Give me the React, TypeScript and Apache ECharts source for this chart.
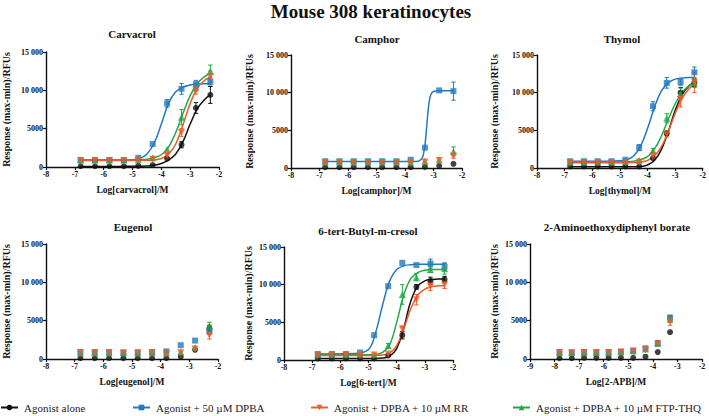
import React, { useEffect, useRef } from 'react';
import * as echarts from 'echarts';

const FONT = 'Liberation Serif';

// ---------- shared x values ----------
const concX = [-6.8, -6.3, -5.8, -5.3, -4.8, -4.3, -3.8, -3.3, -2.8, -2.3];
const apbX = [-7.8, -7.3, -6.8, -6.3, -5.8, -5.3, -4.8, -4.3, -3.8, -3.3];
const fitX = [-6.8, -5.5, -5, -4.75, -4.5, -4.25, -4, -3.75, -3.5, -3.25, -3, -2.75, -2.5, -2.3];
const camphorFitX = [-6.8, -4, -3.6, -3.5, -3.4, -3.35, -3.3, -3.25, -3.2, -3.15, -3.1, -3, -2.8, -2.3];

const legendNames = ['Agonist alone', 'Agonist + 50 µM DPBA', 'Agonist + DPBA + 10 µM RR', 'Agonist + DPBA + 10 µM FTP-THQ'];
const panelTitles = ['Carvacrol', 'Camphor', 'Thymol', 'Eugenol', '6-tert-Butyl-m-cresol', '2-Aminoethoxydiphenyl borate'];
const xNames = ['Log[carvacrol]/M', 'Log[camphor]/M', 'Log[thymol]/M', 'Log[eugenol]/M', 'Log[6-tert]/M', 'Log[2-APB]/M'];
const yTicks = [0, 5000, 10000, 15000];

// ---------- Carvacrol ----------
const carvAlone = [100, 100, 100, 100, 150, 250, 1100, 2900, 7700, 9400];
const carvAloneErr = [0, 0, 0, 0, 0, 100, 200, 400, 700, 1100];
const carvDpba = [900, 900, 900, 900, 1200, 3000, 8300, 10200, 10800, 11100];
const carvDpbaErr = [0, 0, 0, 0, 100, 200, 500, 700, 500, 400];
const carvRr = [850, 850, 850, 850, 850, 1000, 1500, 4500, 10000, 11800];
const carvRrErr = [0, 0, 0, 0, 0, 100, 300, 500, 500, 700];
const carvFtp = [900, 900, 900, 900, 950, 1200, 2300, 6500, 10400, 12500];
const carvFtpErr = [0, 0, 0, 0, 0, 100, 200, 1000, 500, 800];
const carvAloneFit = [80, 80, 90, 100, 130, 220, 450, 900, 1700, 3300, 5600, 7600, 8800, 9400];
const carvDpbaFit = [900, 900, 950, 1100, 1700, 3100, 5600, 8300, 9800, 10400, 10700, 10800, 10850, 10850];
const carvRrFit = [850, 850, 850, 860, 880, 920, 1100, 1700, 3000, 5500, 8300, 10300, 11300, 11700];
const carvFtpFit = [900, 900, 910, 930, 1000, 1200, 1600, 2600, 4500, 7000, 9300, 10900, 11800, 12200];

// ---------- Camphor ----------
const campAlone = [100, 100, 100, 100, 100, 100, 100, 150, 300, 550];
const campAloneErr = [0, 0, 0, 0, 0, 0, 0, 0, 100, 100];
const campDpba = [900, 900, 900, 900, 900, 900, 1100, 2700, 10300, 10200];
const campDpbaErr = [0, 0, 0, 0, 0, 0, 100, 200, 200, 1200];
const campRr = [700, 700, 700, 700, 700, 700, 700, 800, 1000, 1600];
const campRrErr = [0, 0, 0, 0, 0, 0, 0, 100, 200, 300];
const campFtp = [800, 800, 800, 800, 800, 800, 800, 900, 1100, 2200];
const campFtpErr = [0, 0, 0, 0, 0, 0, 0, 100, 200, 600];
const campDpbaFit = [850, 850, 870, 950, 1300, 1900, 3000, 5000, 7200, 8800, 9700, 10150, 10250, 10250];

// ---------- Thymol ----------
const thymAlone = [200, 200, 200, 200, 200, 200, 1300, 4600, 10000, 11300];
const thymAloneErr = [0, 0, 0, 0, 0, 0, 200, 300, 700, 500];
const thymDpba = [900, 900, 900, 900, 1100, 2700, 8200, 11300, 11400, 12700];
const thymDpbaErr = [0, 0, 0, 0, 100, 400, 600, 700, 400, 700];
const thymRr = [700, 700, 700, 700, 700, 800, 1600, 4500, 9100, 11300];
const thymRrErr = [0, 0, 0, 0, 0, 100, 200, 400, 1000, 1300];
const thymFtp = [800, 800, 800, 800, 850, 1000, 2300, 6600, 9900, 11300];
const thymFtpErr = [0, 0, 0, 0, 0, 100, 300, 600, 700, 600];
const thymAloneFit = [150, 150, 150, 160, 170, 200, 400, 1000, 2400, 4800, 7600, 9700, 10900, 11400];
const thymDpbaFit = [900, 900, 950, 1100, 1600, 2900, 5200, 8000, 10200, 11300, 11800, 11950, 12000, 12000];
const thymRrFit = [700, 700, 700, 710, 730, 800, 1000, 1600, 2800, 4800, 7200, 9200, 10500, 11100];
const thymFtpFit = [800, 800, 810, 830, 900, 1100, 1500, 2500, 4200, 6400, 8500, 10000, 10900, 11300];

// ---------- Eugenol ----------
const eugAlone = [100, 100, 100, 100, 100, 100, 100, 300, 1200, 4000];
const eugAloneErr = [0, 0, 0, 0, 0, 0, 0, 100, 200, 400];
const eugDpba = [900, 900, 900, 800, 850, 900, 1000, 1800, 2400, 3600];
const eugDpbaErr = [0, 0, 0, 0, 0, 0, 100, 100, 200, 400];
const eugRr = [800, 800, 800, 800, 800, 800, 700, 800, 1300, 3100];
const eugRrErr = [0, 0, 0, 0, 0, 0, 0, 100, 200, 500];
const eugFtp = [800, 800, 800, 800, 800, 800, 800, 900, 1500, 4300];
const eugFtpErr = [0, 0, 0, 0, 0, 0, 0, 100, 200, 500];

// ---------- 6-tert-Butyl-m-cresol ----------
const tertAlone = [200, 200, 200, 200, 200, 600, 3300, 9700, 10500, 10700];
const tertAloneErr = [0, 0, 0, 0, 0, 100, 500, 300, 500, 400];
const tertDpba = [800, 800, 800, 1000, 3300, 9800, 12900, 12600, 12800, 12400];
const tertDpbaErr = [0, 0, 0, 100, 200, 200, 200, 200, 600, 500];
const tertRr = [600, 600, 600, 600, 650, 800, 4100, 8000, 9800, 10000];
const tertRrErr = [0, 0, 0, 0, 0, 100, 400, 700, 600, 500];
const tertFtp = [700, 700, 700, 700, 700, 1900, 8700, 11000, 12000, 12100];
const tertFtpErr = [0, 0, 0, 0, 0, 300, 1300, 500, 400, 700];
const tertAloneFit = [200, 200, 200, 200, 250, 500, 1500, 4200, 7800, 9800, 10500, 10700, 10750, 10750];
const tertDpbaFit = [800, 850, 1400, 3600, 7300, 10500, 12000, 12500, 12650, 12700, 12700, 12700, 12700, 12700];
const tertRrFit = [600, 600, 600, 620, 650, 900, 1900, 4100, 6800, 8600, 9400, 9750, 9850, 9900];
const tertFtpFit = [700, 700, 700, 750, 1000, 2000, 5000, 8600, 10800, 11600, 11900, 12000, 12000, 12000];

// ---------- 2-APB ----------
const apbAlone = [100, 100, 150, 150, 150, 150, 150, 300, 900, 3500];
const apbAloneErr = [0, 0, 0, 0, 0, 0, 0, 100, 100, 200];
const apbDpba = [900, 850, 900, 900, 900, 950, 1100, 1400, 2000, 5400];
const apbDpbaErr = [0, 0, 0, 0, 0, 0, 100, 100, 200, 300];
const apbRr = [800, 800, 850, 850, 850, 900, 1000, 1200, 2000, 4900];
const apbRrErr = [0, 0, 0, 0, 0, 0, 100, 100, 300, 500];
const apbFtp = [850, 850, 850, 850, 850, 900, 1050, 1300, 2100, 5200];
const apbFtpErr = [0, 0, 0, 0, 0, 0, 100, 100, 300, 400];

// ---------- styling ----------
const COLORS = ['#111111', '#2379c1', '#23a846', '#f15a29'];
const SYMBOLS = ['circle', 'rect', 'triangle', 'triangle'];
const SYMBOL_SIZES = [6, 6, 7, 7];
const SYMBOL_ROT = [0, 0, 0, 180];
// series order: alone, dpba, ftp, rr (rr drawn last)
const LEGEND_ORDER = [0, 1, 3, 2];

const grids = [
  { left: 46, top: 52, width: 173, height: 115 },
  { left: 291, top: 55, width: 171, height: 113 },
  { left: 537, top: 55, width: 169, height: 113 },
  { left: 45, top: 244, width: 173, height: 115 },
  { left: 284, top: 247, width: 169, height: 113 },
  { left: 530, top: 244, width: 172, height: 115 },
];
const yNameGaps = [35, 37, 38, 35, 31, 31];
const titlePos = [
  [132, 34], [377, 39], [622, 39], [133, 227], [368, 231], [617, 227],
];

type Panel = {
  x: number[];
  pts: number[][]; // alone, dpba, ftp, rr
  errs: number[][];
  fitX: number[] | null;
  fits: (number[] | null)[];
  xMin: number;
};

const panels: Panel[] = [
  { x: concX, pts: [carvAlone, carvDpba, carvFtp, carvRr], errs: [carvAloneErr, carvDpbaErr, carvFtpErr, carvRrErr], fitX, fits: [carvAloneFit, carvDpbaFit, carvFtpFit, carvRrFit], xMin: -8 },
  { x: concX, pts: [campAlone, campDpba, campFtp, campRr], errs: [campAloneErr, campDpbaErr, campFtpErr, campRrErr], fitX: camphorFitX, fits: [null, campDpbaFit, null, null], xMin: -8 },
  { x: concX, pts: [thymAlone, thymDpba, thymFtp, thymRr], errs: [thymAloneErr, thymDpbaErr, thymFtpErr, thymRrErr], fitX, fits: [thymAloneFit, thymDpbaFit, thymFtpFit, thymRrFit], xMin: -8 },
  { x: concX, pts: [eugAlone, eugDpba, eugFtp, eugRr], errs: [eugAloneErr, eugDpbaErr, eugFtpErr, eugRrErr], fitX: null, fits: [null, null, null, null], xMin: -8 },
  { x: concX, pts: [tertAlone, tertDpba, tertFtp, tertRr], errs: [tertAloneErr, tertDpbaErr, tertFtpErr, tertRrErr], fitX, fits: [tertAloneFit, tertDpbaFit, tertFtpFit, tertRrFit], xMin: -8 },
  { x: apbX, pts: [apbAlone, apbDpba, apbFtp, apbRr], errs: [apbAloneErr, apbDpbaErr, apbFtpErr, apbRrErr], fitX: null, fits: [null, null, null, null], xMin: -9 },
];

function errorRenderer(color: string) {
  return (params: any, api: any) => {
    const x = api.value(0);
    const y = api.value(1);
    const e = api.value(2);
    if (!e || e < 250) return null;
    const top = api.coord([x, y + e]);
    const bot = api.coord([x, y - e]);
    const cw = 2.2;
    const st = { stroke: color, lineWidth: 1 };
    return {
      type: 'group',
      children: [
        { type: 'line', shape: { x1: top[0], y1: top[1], x2: bot[0], y2: bot[1] }, style: st },
        { type: 'line', shape: { x1: top[0] - cw, y1: top[1], x2: top[0] + cw, y2: top[1] }, style: st },
        { type: 'line', shape: { x1: bot[0] - cw, y1: bot[1], x2: bot[0] + cw, y2: bot[1] }, style: st },
      ],
    };
  };
}

function buildOption() {
  const series: any[] = [];
  const xAxis: any[] = [];
  const yAxis: any[] = [];
  const axisFont = { fontFamily: FONT, fontWeight: 'bold' as const, color: '#111' };

  panels.forEach((p, i) => {
    xAxis.push({
      gridIndex: i,
      type: 'value',
      min: p.xMin,
      max: -2,
      interval: 1,
      name: xNames[i],
      nameLocation: 'middle',
      nameGap: 18,
      nameTextStyle: { ...axisFont, fontSize: 9.5 },
      axisLine: { show: true, onZero: false, lineStyle: { color: '#111', width: 1.4 } },
      axisTick: { show: true, length: 3, lineStyle: { color: '#111', width: 1.2 } },
      axisLabel: { ...axisFont, fontSize: 8, margin: 3 },
      splitLine: { show: false },
    });
    yAxis.push({
      gridIndex: i,
      type: 'value',
      min: 0,
      max: 15000,
      interval: 5000,
      name: 'Response (max-min)/RFUs',
      nameLocation: 'middle',
      nameRotate: 90,
      nameGap: yNameGaps[i],
      nameTextStyle: { ...axisFont, fontSize: 10 },
      axisLine: { show: true, onZero: false, lineStyle: { color: '#111', width: 1.4 } },
      axisTick: { show: true, length: 3, lineStyle: { color: '#111', width: 1.2 } },
      axisLabel: {
        ...axisFont,
        fontSize: 8,
        margin: 3,
        formatter: (v: number) => (yTicks.includes(v) && v >= 10000 ? `${v / 1000} 000` : `${v}`),
      },
      splitLine: { show: false },
    });

    // curves
    for (let k = 0; k < 4; k++) {
      const fit = p.fits[k];
      if (fit && p.fitX) {
        series.push({
          type: 'line',
          xAxisIndex: i,
          yAxisIndex: i,
          data: p.fitX.map((x, j) => [x, fit[j]]),
          showSymbol: false,
          smooth: 0.4,
          silent: true,
          z: 2,
          lineStyle: { color: COLORS[k], width: 1.5 },
        });
      }
    }
    // error bars
    for (let k = 0; k < 4; k++) {
      series.push({
        type: 'custom',
        xAxisIndex: i,
        yAxisIndex: i,
        data: p.x.map((x, j) => [x, p.pts[k][j], p.errs[k][j]]),
        encode: { x: 0, y: 1 },
        renderItem: errorRenderer(COLORS[k]),
        silent: true,
        z: 3,
      });
    }
    // points
    for (let k = 0; k < 4; k++) {
      series.push({
        type: 'scatter',
        xAxisIndex: i,
        yAxisIndex: i,
        data: p.x.map((x, j) => [x, p.pts[k][j]]),
        symbol: SYMBOLS[k],
        symbolSize: SYMBOL_SIZES[k],
        symbolRotate: SYMBOL_ROT[k],
        itemStyle: { color: COLORS[k] },
        silent: true,
        z: 4 + k,
      });
    }
  });

  // legend proxy series
  const legendLeft = [0, 132, 310, 512];
  const legends: any[] = [];
  legendNames.forEach((name, li) => {
    const k = LEGEND_ORDER[li];
    series.push({
      type: 'line',
      name,
      xAxisIndex: 0,
      yAxisIndex: 0,
      data: [],
      symbol: SYMBOLS[k],
      symbolSize: SYMBOL_SIZES[k],
      symbolRotate: SYMBOL_ROT[k],
      itemStyle: { color: COLORS[k] },
      lineStyle: { color: COLORS[k], width: 1.5 },
    });
    legends.push({
      data: [name],
      left: legendLeft[li],
      top: 402,
      itemWidth: 17,
      itemHeight: 7,
      itemGap: 5,
      selectedMode: false,
      textStyle: { fontFamily: FONT, fontSize: 11, color: '#222', padding: [0, 0, 0, 1] },
      padding: 0,
    });
  });

  const graphic: any[] = [
    {
      type: 'text',
      x: 371,
      y: 11,
      style: {
        text: 'Mouse 308 keratinocytes',
        font: `bold 19px ${FONT}`,
        fill: '#111',
        textAlign: 'center',
        textVerticalAlign: 'middle',
      },
    },
  ];
  panelTitles.forEach((t, i) => {
    graphic.push({
      type: 'text',
      x: titlePos[i][0],
      y: titlePos[i][1],
      style: {
        text: t,
        font: `bold 11px ${FONT}`,
        fill: '#111',
        textAlign: 'center',
        textVerticalAlign: 'middle',
      },
    });
  });

  return {
    animation: false,
    backgroundColor: '#ffffff',
    textStyle: { fontFamily: FONT },
    grid: grids.map((g) => ({ ...g })),
    xAxis,
    yAxis,
    series,
    legend: legends,
    graphic,
  };
}

export default function App() {
  const ref = useRef<HTMLDivElement>(null);
  useEffect(() => {
    document.body.style.margin = '0';
    if (!ref.current) return;
    const chart = echarts.init(ref.current, null, { renderer: 'svg' });
    chart.setOption(buildOption() as any);
    return () => chart.dispose();
  }, []);
  return <div ref={ref} style={{ width: 709, height: 416 }} />;
}
